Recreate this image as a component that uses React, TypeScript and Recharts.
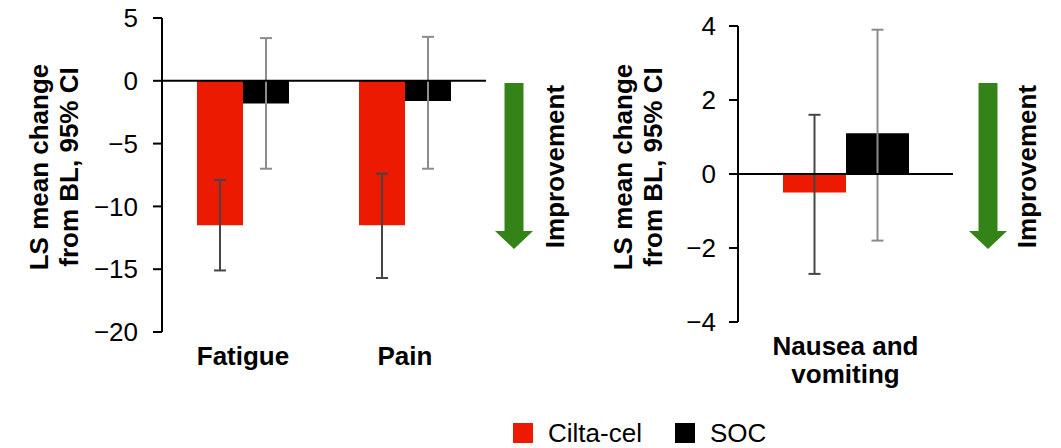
import React from 'react';
import { BarChart, Bar, XAxis, YAxis, ReferenceLine, ErrorBar, Label } from 'recharts';

const FONT = '"Liberation Sans", Arial, Helvetica, sans-serif';

// Series
const seriesNames = ['Cilta-cel', 'SOC'];
const seriesColors = ['#EB1A00', '#000000'];
const errorColors = ['#454545', '#8C8C8C'];

// Left panel: Fatigue, Pain
const leftCategories = ['Fatigue', 'Pain'];
const leftCilta = [-11.5, -11.5];
const leftCiltaLow = [-15.1, -15.7];
const leftCiltaHigh = [-7.9, -7.4];
const leftSoc = [-1.8, -1.6];
const leftSocLow = [-7.0, -7.0];
const leftSocHigh = [3.4, 3.5];
const leftTicks = [-20, -15, -10, -5, 0, 5];

// Right panel: Nausea and vomiting
const rightCategories = ['Nausea and\nvomiting'];
const rightCilta = [-0.5];
const rightCiltaLow = [-2.7];
const rightCiltaHigh = [1.6];
const rightSoc = [1.1];
const rightSocLow = [-1.8];
const rightSocHigh = [3.9];
const rightTicks = [-4, -2, 0, 2, 4];

const yAxisTitle = ['LS mean change', 'from BL, 95% CI'];
const arrowText = 'Improvement';

const build = (
  cats: string[], c: number[], cl: number[], ch: number[], s: number[], sl: number[], sh: number[]
) =>
  cats.map((name, i) => ({
    name,
    cilta: c[i],
    ciltaErr: [c[i] - cl[i], ch[i] - c[i]],
    soc: s[i],
    socErr: [s[i] - sl[i], sh[i] - s[i]],
  }));

const leftData = build(leftCategories, leftCilta, leftCiltaLow, leftCiltaHigh, leftSoc, leftSocLow, leftSocHigh);
const rightData = build(rightCategories, rightCilta, rightCiltaLow, rightCiltaHigh, rightSoc, rightSocLow, rightSocHigh);

const fmt = (v: number) => (v < 0 ? '\u2212' + Math.abs(v) : String(v));

const makeXTick = (baselines: number[]) => (props: any) => {
  const { x, payload } = props;
  const lines = String(payload.value).split('\n');
  return (
    <text textAnchor="middle" fontFamily={FONT} fontWeight="bold" fontSize={26} fill="#000">
      {lines.map((l, i) => (
        <tspan key={i} x={x} y={baselines[i]}>
          {l}
        </tspan>
      ))}
    </text>
  );
};

const makeYTitle = (xs: number[], cy: number) => () => (
  <g>
    {yAxisTitle.map((t, i) => (
      <text
        key={i}
        x={xs[i]}
        y={cy}
        transform={`rotate(-90, ${xs[i]}, ${cy})`}
        textAnchor="middle"
        fontFamily={FONT}
        fontWeight="bold"
        fontSize={26}
        fill="#000"
      >
        {t}
      </text>
    ))}
  </g>
);

const tickStyle = { fontFamily: FONT, fontSize: 26, fill: '#000' };

function Panel(props: {
  data: any[];
  width: number;
  plotLeft: number;
  plotRight: number;
  top: number;
  bottom: number;
  domain: [number, number];
  ticks: number[];
  gap: number;
  tickMargin: number;
  xBaselines: number[];
  titleXs: number[];
}) {
  const H = 448;
  const xh = 60;
  return (
    <BarChart
      width={props.width}
      height={H}
      data={props.data}
      margin={{ top: props.top, right: props.width - props.plotRight, left: 0, bottom: H - props.bottom - xh }}
      barGap={0}
      barCategoryGap={props.gap}
    >
      <XAxis
        dataKey="name"
        axisLine={false}
        tickLine={false}
        height={xh}
        interval={0}
        tick={makeXTick(props.xBaselines)}
      />
      <YAxis
        type="number"
        width={props.plotLeft}
        domain={props.domain}
        ticks={props.ticks}
        interval={0}
        tickFormatter={fmt}
        axisLine={{ stroke: '#000', strokeWidth: 2 }}
        tickLine={{ stroke: '#000', strokeWidth: 2 }}
        tickSize={9}
        tickMargin={props.tickMargin}
        tick={tickStyle}
      >
        <Label content={makeYTitle(props.titleXs, 167)} />
      </YAxis>
      <Bar dataKey="cilta" name={seriesNames[0]} fill={seriesColors[0]} isAnimationActive={false}>
        <ErrorBar dataKey="ciltaErr" direction="y" width={6} stroke={errorColors[0]} strokeWidth={2} isAnimationActive={false} />
      </Bar>
      <Bar dataKey="soc" name={seriesNames[1]} fill={seriesColors[1]} isAnimationActive={false}>
        <ErrorBar dataKey="socErr" direction="y" width={6} stroke={errorColors[1]} strokeWidth={2} isAnimationActive={false} />
      </Bar>
      <ReferenceLine y={0} stroke="#000" strokeWidth={2} />
    </BarChart>
  );
}

const Arrow = ({ cx }: { cx: number }) => {
  const top = 83, base = 231, tip = 249, hw = 9.5, hh = 19;
  const pts = [
    [cx - hw, top], [cx + hw, top], [cx + hw, base], [cx + hh, base],
    [cx, tip], [cx - hh, base], [cx - hw, base],
  ].map((p) => p.join(',')).join(' ');
  return <polygon points={pts} fill="#338318" />;
};

const ImpText = ({ x }: { x: number }) => (
  <text
    x={x}
    y={166.5}
    transform={`rotate(-90, ${x}, 166.5)`}
    textAnchor="middle"
    fontFamily={FONT}
    fontWeight="bold"
    fontSize={26}
    fill="#000"
  >
    {arrowText}
  </text>
);

export default function App() {
  return (
    <div style={{ position: 'absolute', left: 0, top: 0, width: 1061, height: 448, background: '#fff', overflow: 'hidden' }}>
      <div style={{ position: 'absolute', left: 0, top: 0 }}>
        <Panel
          data={leftData}
          width={530}
          plotLeft={162}
          plotRight={486}
          top={18}
          bottom={332}
          domain={[-20, 5]}
          ticks={leftTicks}
          gap={35}
          tickMargin={15}
          xBaselines={[365]}
          titleXs={[48, 78]}
        />
      </div>
      <div style={{ position: 'absolute', left: 530, top: 0 }}>
        <Panel
          data={rightData}
          width={531}
          plotLeft={208}
          plotRight={423}
          top={26}
          bottom={322}
          domain={[-4, 4]}
          ticks={rightTicks}
          gap={45}
          tickMargin={13}
          xBaselines={[355, 383]}
          titleXs={[102, 132]}
        />
      </div>
      <svg width={1061} height={448} style={{ position: 'absolute', left: 0, top: 0, pointerEvents: 'none' }}>
        <Arrow cx={514} />
        <ImpText x={564} />
        <Arrow cx={988} />
        <ImpText x={1036} />
        {seriesNames.map((n, i) => {
          const x0 = [513, 675][i];
          return (
            <g key={n}>
              <rect x={x0} y={423} width={20} height={20} fill={seriesColors[i]} />
              <text x={x0 + 35} y={442} fontFamily={FONT} fontSize={26} fill="#000">
                {n}
              </text>
            </g>
          );
        })}
      </svg>
    </div>
  );
}
